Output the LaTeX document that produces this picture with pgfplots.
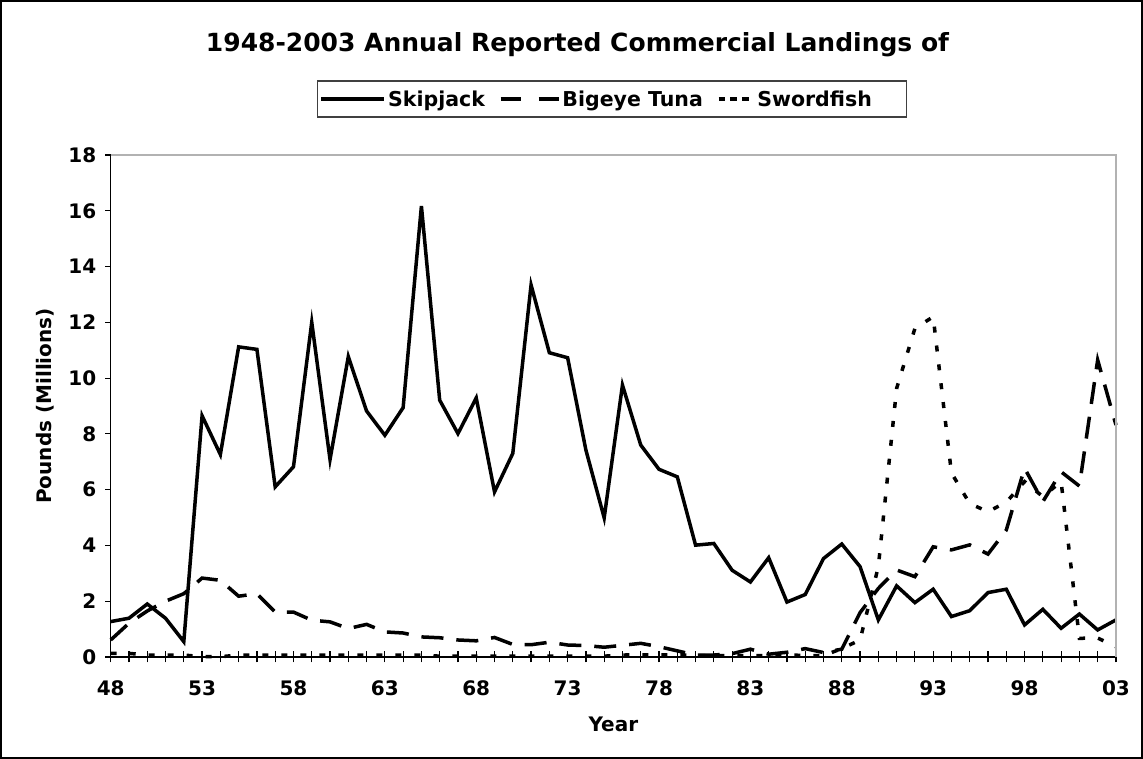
\documentclass[border=0pt]{standalone}
\usepackage{fontspec}
\setmainfont{DejaVu Sans}
\usepackage{pgfplots}
\pgfplotsset{compat=1.18}
\usepackage{pgfplotstable}

\pgfplotstableread{
year skip bige sword
1948 1.27 0.61 0.13
1949 1.39 1.21 0.13
1950 1.90 1.65 0.07
1951 1.39 2.00 0.07
1952 0.55 2.27 0.07
1953 8.65 2.83 0.01
1954 7.26 2.75 0.01
1955 11.12 2.18 0.07
1956 11.03 2.27 0.07
1957 6.10 1.61 0.07
1958 6.82 1.61 0.07
1959 12.00 1.32 0.07
1960 7.08 1.26 0.07
1961 10.77 1.02 0.07
1962 8.82 1.17 0.07
1963 7.95 0.90 0.07
1964 8.94 0.86 0.07
1965 16.17 0.72 0.07
1966 9.21 0.69 0.03
1967 8.01 0.61 0.03
1968 9.29 0.58 0.03
1969 5.92 0.70 0.03
1970 7.30 0.45 0.03
1971 13.34 0.44 0.03
1972 10.91 0.53 0.03
1973 10.73 0.43 0.03
1974 7.42 0.41 0.03
1975 4.99 0.35 0.03
1976 9.75 0.42 0.07
1977 7.60 0.49 0.08
1978 6.73 0.37 0.08
1979 6.46 0.22 0.08
1980 4.01 0.07 0.05
1981 4.07 0.07 0.05
1982 3.11 0.12 0.05
1983 2.69 0.28 0.05
1984 3.56 0.10 0.05
1985 1.97 0.17 0.08
1986 2.24 0.30 0.05
1987 3.53 0.16 0.05
1988 4.05 0.28 0.30
1989 3.24 1.59 0.61
1990 1.33 2.46 3.24
1991 2.55 3.12 9.63
1992 1.95 2.88 11.78
1993 2.43 3.95 12.20
1994 1.45 3.84 6.60
1995 1.66 4.02 5.50
1996 2.31 3.69 5.21
1997 2.43 4.55 5.55
1998 1.15 6.77 6.29
1999 1.71 5.57 5.75
2000 1.03 6.64 6.29
2001 1.54 6.13 0.67
2002 0.97 10.65 0.68
2003 1.33 8.32 0.37
}\datatable

\pgfplotsset{
  legskip/.style={legend image code/.code={\draw[##1] (0pt,0pt) -- (63pt,0pt);}},
  legbige/.style={legend image code/.code={\draw[##1, dash pattern=on 20pt off 18pt] (0pt,0pt) -- (58pt,0pt);}},
  legsword/.style={legend image code/.code={\draw[##1, dash pattern=on 6.7pt off 5pt] (0pt,0pt) -- (35pt,0pt);}},
}

\begin{document}
\begin{tikzpicture}
\useasboundingbox (0pt,0pt) rectangle (1143pt,759pt);
\fill[white] (0pt,0pt) rectangle (1143pt,759pt);
\draw[black, line width=2pt] (1pt,1pt) rectangle (1142pt,758pt);
\node[anchor=base, inner sep=0pt, font=\fontsize{25}{29}\selectfont\bfseries] at (577.5pt,707.3pt) {1948-2003 Annual Reported Commercial Landings of};
\begin{axis}[
  at={(110.7pt,102pt)}, anchor=south west,
  scale only axis, width=1005.3pt, height=502pt,
  xmin=1948, xmax=2003, ymin=0, ymax=18,
  clip=false,
  axis x line*=bottom, axis y line*=left,
  axis line style={black, line width=1.5pt},
  every tick/.style={black, line width=1.2pt},
  xtick={1948,1953,...,2003},
  xticklabels={48,53,58,63,68,73,78,83,88,93,98,03},
  minor x tick num=4,
  ytick={0,2,...,18},
  major tick length=11pt, minor tick length=11pt,
  xtick align=center, ytick align=outside,
  ytick style={draw=none},
  /pgf/number format/assume math mode=true,
  tick label style={font=\fontsize{20}{24}\selectfont\bfseries},
  xticklabel style={yshift=-15pt},
  xlabel={Year}, ylabel={Pounds (Millions)},
  label style={font=\fontsize{20}{24}\selectfont\bfseries},
  xlabel style={at={(axis description cs:0.5,-0.1335)}, anchor=center},
  ylabel style={at={(axis description cs:-0.0654,0.5)}, anchor=center},
  legend columns=3,
  legend style={at={(0.4987,1.1116)}, anchor=center, draw=black!75, line width=1.2pt,
    fill=white, font=\fontsize{20.5}{24}\selectfont\bfseries,
    inner xsep=2pt, inner ysep=7.5pt,
    /tikz/every even column/.append style={column sep=12pt}},
  after end axis/.code={
    \draw[gray!60, line width=1.5pt] (rel axis cs:0,1) -- (rel axis cs:1,1) -- (rel axis cs:1,0);
    \foreach \k in {0,...,9} {\draw[black, line width=1.2pt] (rel axis cs:0,\k/9) -- ++(-5.5pt,0pt);}
  },
]
\addplot[black, line width=3.5pt, mark=none, legskip]
  table[x=year, y=skip] {\datatable};
\addlegendentry{Skipjack}
\addplot[black, line width=3.5pt, mark=none, dash pattern=on 22pt off 13pt, legbige]
  table[x=year, y=bige] {\datatable};
\addlegendentry{Bigeye Tuna}
\addplot[black, line width=3.5pt, mark=none, dash pattern=on 6pt off 13pt, legsword]
  table[x=year, y=sword] {\datatable};
\addlegendentry[text width=145pt]{Swordfish}
\end{axis}
\end{tikzpicture}
\end{document}
